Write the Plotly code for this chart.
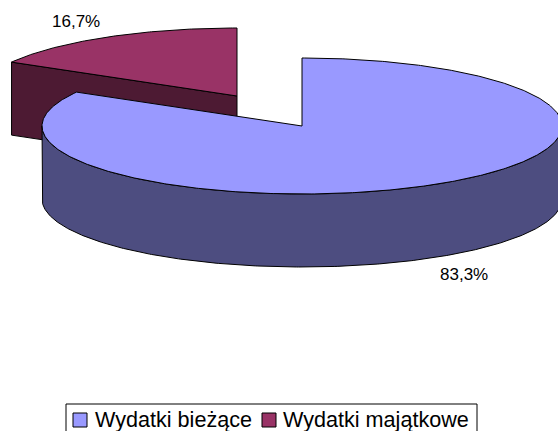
import numpy as np
import plotly.graph_objects as go

categories = ["Wydatki bieżące", "Wydatki majątkowe"]
values = [83.3, 16.7]
top_colors = ["#9999FF", "#993366"]
side_colors = ["#4D4D80", "#4D1A33"]

# pixel-based drawing frame and pie projection
W, H = 558, 431
CENTER = (302, 126)
RX, RY = 260, 68
DEPTH = 73
EXPLODE = (-65, -30)
FONT = "Liberation Sans, Arial, sans-serif"

total = sum(values)
sweep = [v / total * 360 for v in values]
start_blue, end_blue = 0.0, sweep[0]
start_red, end_red = sweep[0], 360.0


def arc(a0, a1, cx, cy):
    t = np.radians(np.linspace(a0, a1, max(int(abs(a1 - a0)) * 2, 2)))
    return cx + RX * np.sin(t), cy - RY * np.cos(t)


def area(x, y, fill):
    return go.Scatter(x=list(x), y=list(y), mode="lines", fill="toself", fillcolor=fill,
                      line=dict(color="black", width=1), hoverinfo="skip", showlegend=False)


cx, cy = CENTER
rx0, ry0 = cx + EXPLODE[0], cy + EXPLODE[1]

fig = go.Figure()

# exploded slice: radial wall, then top
ex, ey = arc(end_blue, end_blue, rx0, ry0)
wall_x = [ex[0], rx0, rx0, ex[0], ex[0]]
wall_y = [ey[0], ry0, ry0 + DEPTH, ey[0] + DEPTH, ey[0]]
fig.add_trace(area(wall_x, wall_y, side_colors[1]))
ax, ay = arc(start_red, end_red, rx0, ry0)
fig.add_trace(area([rx0, *ax, rx0], [ry0, *ay, ry0], top_colors[1]))

# main slice: outer wall, then top
wx, wy = arc(90, 270, cx, cy)
fig.add_trace(area([*wx, *wx[::-1], wx[0]], [*wy, *(wy[::-1] + DEPTH), wy[0]], side_colors[0]))
bx, by = arc(start_blue, end_blue, cx, cy)
fig.add_trace(area([cx, *bx, cx], [cy, *by, cy], top_colors[0]))

# data labels
label_pos = [(464, 274), (76, 21)]
for v, (lx, ly) in zip(values, label_pos):
    fig.add_annotation(x=lx, y=ly, xref="x", yref="y", showarrow=False,
                       text=f"{v:.1f}%".replace(".", ","),
                       font=dict(family=FONT, size=17, color="black"))

# legend box (bottom edge runs off the page, as in the reference)
fig.add_shape(type="rect", x0=66, x1=477, y0=404, y1=445, xref="x", yref="y",
              line=dict(color="black", width=1), fillcolor="white", layer="below")
swatch_x = [80, 269]
text_x = [93, 281]
for name, color, sx, tx in zip(categories, top_colors, swatch_x, text_x):
    fig.add_trace(go.Scatter(x=[sx], y=[420], mode="markers", name=name, showlegend=False,
                             hoverinfo="name",
                             marker=dict(symbol="square", size=14, color=color,
                                         line=dict(color="black", width=1))))
    fig.add_annotation(x=tx, y=419, xref="x", yref="y", showarrow=False, xanchor="left",
                       text=name, font=dict(family=FONT, size=21.6, color="black"))

fig.update_layout(
    width=W, height=H,
    margin=dict(l=0, r=0, t=0, b=0, autoexpand=False),
    paper_bgcolor="white", plot_bgcolor="white", showlegend=False,
    xaxis=dict(range=[0, W], visible=False, fixedrange=True),
    yaxis=dict(range=[H, 0], visible=False, fixedrange=True),
    font=dict(family=FONT, size=17, color="black"),
)
fig.write_html(
    "out.html",
    config={"displayModeBar": False},
    post_script="document.body.style.margin='0';document.documentElement.style.overflow='hidden';",
)
